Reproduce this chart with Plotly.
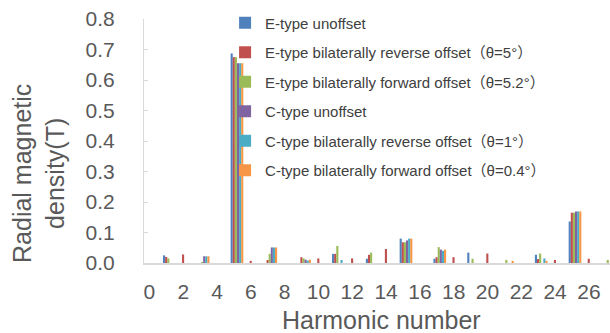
import plotly.graph_objects as go

harmonics = list(range(28))
tick_vals = list(range(0, 27, 2))
y_ticks = [0, 0.1, 0.2, 0.3, 0.4, 0.5, 0.6, 0.7, 0.8]

names = [
    "E-type unoffset",
    "E-type bilaterally reverse offset（θ=5°）",
    "E-type bilaterally forward offset（θ=5.2°）",
    "C-type unoffset",
    "C-type bilaterally reverse offset（θ=1°）",
    "C-type bilaterally forward offset（θ=0.4°）",
]
colors = ["#4F81BD", "#C0504D", "#9BBB59", "#8064A2", "#4BACC6", "#F79646"]

#            0     1      2      3      4     5      6      7      8     9      10     11     12     13     14     15     16    17     18     19     20     21     22    23     24     25     26     27
e_unoff  = [0, 0.025, 0,     0,     0, 0.687, 0,     0,     0, 0,     0,     0.030, 0,     0.014, 0,     0.080, 0, 0.014, 0,     0.034, 0,     0,     0, 0.027, 0,     0.136, 0,     0]
e_rev    = [0, 0.020, 0.028, 0,     0, 0.675, 0.007, 0.010, 0, 0.019, 0.015, 0.030, 0.015, 0.027, 0.046, 0.068, 0, 0.019, 0.019, 0,     0.031, 0,     0, 0.013, 0.010, 0.165, 0.014, 0]
e_fwd    = [0, 0.015, 0,     0.003, 0, 0.675, 0,     0.030, 0, 0.015, 0,     0.056, 0,     0.034, 0,     0.068, 0, 0.052, 0,     0.014, 0,     0.010, 0, 0.031, 0,     0.165, 0,     0.010]
c_unoff  = [0, 0,     0,     0.022, 0, 0.655, 0,     0.051, 0, 0.011, 0,     0,     0,     0,     0,     0.074, 0, 0.044, 0,     0,     0,     0,     0, 0,     0,     0.169, 0,     0]
c_rev    = [0, 0,     0,     0.022, 0, 0.655, 0,     0.051, 0, 0.008, 0,     0.010, 0,     0,     0,     0.080, 0, 0.040, 0,     0,     0,     0,     0, 0.015, 0,     0.169, 0,     0]
c_fwd    = [0, 0,     0,     0.022, 0, 0.655, 0,     0.051, 0, 0.011, 0,     0,     0,     0,     0,     0.080, 0, 0.044, 0,     0,     0,     0.007, 0, 0.007, 0,     0.169, 0,     0]

series = [e_unoff, e_rev, e_fwd, c_unoff, c_rev, c_fwd]

fig = go.Figure()
for i, (nm, vals, col) in enumerate(zip(names, series, colors)):
    fig.add_trace(go.Bar(x=harmonics, y=vals, name=nm, marker_color=col,
                         marker_line_width=0, legendgroup=f"g{i}"))

axis_font = dict(family="Liberation Sans, Arial, sans-serif", size=21, color="#595959")
title_font = dict(family="Liberation Sans, Arial, sans-serif", size=25, color="#595959")

fig.update_layout(
    width=610, height=333,
    margin=dict(l=144, r=0, t=19, b=70),
    paper_bgcolor="white", plot_bgcolor="white",
    barmode="group", bargap=0.25, bargroupgap=0,
    showlegend=True,
    legend=dict(x=0.174, y=1.0515, xanchor="left", yanchor="top",
                bgcolor="rgba(0,0,0,0)", tracegroupgap=7, maxheight=320,
                font=dict(family="Liberation Sans, Noto Sans CJK SC, sans-serif", size=15, color="#404040")),
    xaxis=dict(range=[-0.5, 27.07], tickmode="array", tickvals=tick_vals,
               ticktext=[str(v) for v in tick_vals], ticks="", showgrid=False,
               showline=True, linecolor="#D9D9D9", linewidth=2, tickfont=axis_font,
               ticklabelstandoff=9, ticklabelshift=-3, zeroline=False, automargin=False),
    yaxis=dict(range=[0, 0.8], tickmode="array", tickvals=y_ticks, tickformat=".1f",
               ticks="inside", ticklen=4, tickcolor="#D9D9D9", showgrid=False,
               showline=True, linecolor="#D9D9D9", linewidth=1, tickfont=axis_font,
               ticklabelstandoff=24, zeroline=False, automargin=False),
    annotations=[
        dict(text="Radial magnetic<br>density(T)", textangle=-90, xref="paper", yref="paper",
             x=-0.2253, y=0.365, xanchor="center", yanchor="middle", showarrow=False,
             font=title_font),
        dict(text="Harmonic number", xref="paper", yref="paper", x=0.5097, y=-0.234,
             xanchor="center", yanchor="middle", showarrow=False, font=title_font),
    ],
)

fig.write_html("out.html", config={"displayModeBar": False},
               post_script="document.body.style.margin='0';")
